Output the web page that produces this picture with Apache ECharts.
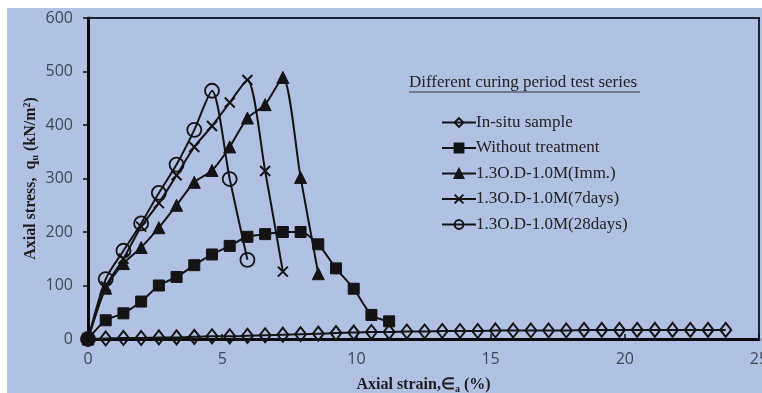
<!DOCTYPE html>
<html>
<head>
<meta charset="utf-8">
<script src="https://cdn.jsdelivr.net/npm/echarts@6/dist/echarts.min.js"></script>
<style>
  html, body { margin: 0; padding: 0; background: #fff; }
  #chart { width: 762px; height: 393px; }
</style>
</head>
<body>
<div id="chart"></div>
<script>
// Axial strain steps (%) shared by every test series
const strain = [0, 0.66, 1.32, 1.98, 2.64, 3.3, 3.96, 4.62, 5.28, 5.94, 6.6, 7.26, 7.92, 8.58,
  9.24, 9.9, 10.56, 11.22, 11.88, 12.54, 13.2, 13.86, 14.52, 15.18, 15.84, 16.5, 17.16,
  17.82, 18.48, 19.14, 19.8, 20.46, 21.12, 21.78, 22.44, 23.1, 23.76];

// Axial stress q_u (kN/m²) for each curing condition
const inSitu = [0, 1, 2, 2, 3, 3, 4, 5, 5, 6, 7, 8, 9, 10, 11, 12, 13, 13, 14, 14, 15, 15,
  15, 16, 16, 16, 16, 16, 17, 17, 17, 17, 17, 17, 17, 17, 17];
const withoutTreatment = [0, 35, 48, 70, 100, 116, 138, 158, 174, 191, 196, 200, 200, 177,
  132, 94, 45, 33];
const imm = [0, 95, 141, 171, 208, 250, 293, 315, 359, 413, 438, 489, 302, 122];
const days7 = [0, 98, 150, 210, 254, 306, 359, 398, 442, 484, 314, 126];
const days28 = [0, 112, 165, 216, 273, 326, 391, 464, 299, 148];

const seriesNames = ['In-situ sample', 'Without treatment', '1.3O.D-1.0M(Imm.)',
  '1.3O.D-1.0M(7days)', '1.3O.D-1.0M(28days)'];
const legendTitle = 'Different curing period test series';

const xTicks = { min: 0, max: 25, interval: 5 };
const yTicks = { min: 0, max: 600, interval: 100 };

const pairs = vals => vals.map((v, i) => [strain[i], v]);

const ink = '#141414';
const bg = '#b1c1e4';
const hollow = 'rgba(0,0,0,0)';

function makeSeries(name, vals, symbol, size, fill, bw) {
  return {
    name: name,
    type: 'line',
    data: pairs(vals),
    smooth: 0.25,
    symbol: symbol,
    symbolSize: size,
    lineStyle: { color: ink, width: 2 },
    itemStyle: { color: fill, borderColor: ink, borderWidth: bw },
    emphasis: { disabled: true },
    animation: false
  };
}

const chart = echarts.init(document.getElementById('chart'), null, { renderer: 'canvas' });

const tickFont = { fontFamily: 'Open Sans', fontSize: 16, color: '#3e4757' };
const nameFont = { fontFamily: 'Liberation Serif', fontWeight: 'bold', fontSize: 16, color: '#1c1c1c' };

chart.setOption({
  backgroundColor: '#fff',
  animation: false,
  graphic: [
    { type: 'rect', z: -10, silent: true,
      shape: { x: 7, y: 8, width: 762, height: 393 },
      style: { fill: bg } },
    { type: 'text', left: 409, top: 74, silent: true,
      style: { text: legendTitle, fontFamily: 'Liberation Serif', fontSize: 17, fill: '#222' } },
    { type: 'line', silent: true,
      shape: { x1: 409, y1: 92, x2: 640, y2: 92 },
      style: { stroke: '#333', lineWidth: 1 } }
  ],
  grid: {
    left: 88, right: 3, top: 18, bottom: 54,
    outerBoundsMode: 'none', containLabel: false,
    show: true, borderColor: '#1b2130', borderWidth: 2, backgroundColor: 'transparent'
  },
  legend: {
    orient: 'vertical',
    left: 436, top: 109,
    itemWidth: 34, itemHeight: 11, itemGap: 8.5,
    textStyle: { fontFamily: 'Liberation Serif', fontSize: 17, color: '#222', padding: [0, 0, 0, -5] },
    data: seriesNames
  },
  xAxis: {
    type: 'value',
    min: xTicks.min, max: xTicks.max, interval: xTicks.interval,
    splitLine: { show: false },
    axisLine: { lineStyle: { color: '#0c0c0c', width: 3 } },
    axisTick: { inside: true, length: 5, lineStyle: { color: '#0c0c0c', width: 1.5 } },
    axisLabel: Object.assign({ margin: 12 }, tickFont),
    name: '{n|Axial strain,∈}{s|a}{n| (%)}',
    nameLocation: 'middle', nameGap: 37, nameMoveOverlap: false,
    nameTextStyle: {
      rich: {
        n: nameFont,
        s: Object.assign({}, nameFont, { fontSize: 10, padding: [8, 0, 0, 0] })
      }
    }
  },
  yAxis: {
    type: 'value',
    min: yTicks.min, max: yTicks.max, interval: yTicks.interval,
    splitLine: { show: false },
    axisLine: { lineStyle: { color: '#0c0c0c', width: 3 } },
    axisTick: { inside: false, length: 5, lineStyle: { color: '#0c0c0c', width: 1.5 } },
    axisLabel: Object.assign({ margin: 15 }, tickFont),
    name: '{n|Axial stress,  q}{s|u}{n| (kN/m}{p|2}{n|)}',
    nameLocation: 'middle', nameGap: 48, nameMoveOverlap: false,
    nameTextStyle: {
      rich: {
        n: nameFont,
        s: Object.assign({}, nameFont, { fontSize: 10, padding: [8, 0, 0, 0] }),
        p: Object.assign({}, nameFont, { fontSize: 10, padding: [0, 0, 7, 0] })
      }
    }
  },
  series: [
    makeSeries(seriesNames[0], inSitu, 'diamond', [11, 14], hollow, 2),
    makeSeries(seriesNames[1], withoutTreatment, 'rect', 11, ink, 1),
    makeSeries(seriesNames[2], imm, 'triangle', 12, ink, 1),
    makeSeries(seriesNames[3], days7, 'path://M0,0L10,10M0,10L10,0', 10, hollow, 2),
    makeSeries(seriesNames[4], days28, 'circle', 14, hollow, 1.8)
  ]
});
</script>
</body>
</html>
